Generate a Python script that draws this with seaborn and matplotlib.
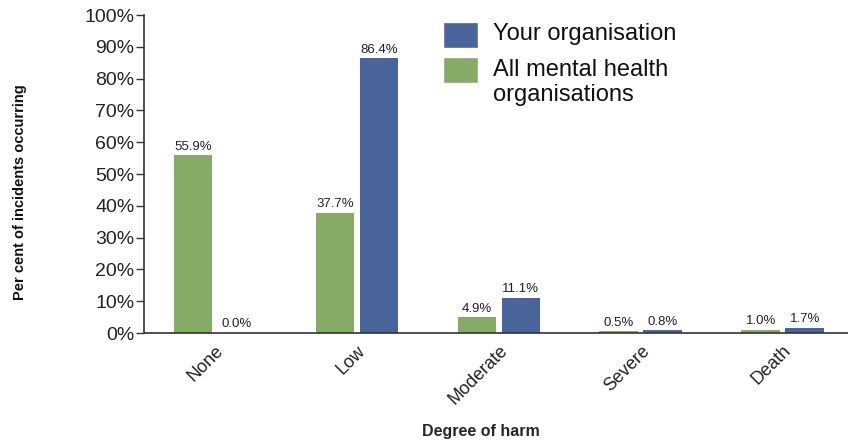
import matplotlib
matplotlib.use("Agg")
import matplotlib.pyplot as plt
import seaborn as sns
import pandas as pd
from matplotlib.patches import Rectangle

categories = ["None", "Low", "Moderate", "Severe", "Death"]
all_mh = [55.9, 37.7, 4.9, 0.5, 1.0]
your_org = [0.0, 86.4, 11.1, 0.8, 1.7]
series_names = ["All mental health organisations", "Your organisation"]
yticks = list(range(0, 101, 10))

df = pd.DataFrame({
    "cat": categories * 2,
    "val": all_mh + your_org,
    "series": [series_names[0]] * 5 + [series_names[1]] * 5,
})

sns.set_style("white")
plt.rcParams['font.family'] = ['Liberation Sans', 'DejaVu Sans']

green = "#86AB66"
blue = "#4A659B"

fig = plt.figure(figsize=(8.48, 4.44), dpi=100)
ax = fig.add_axes([0.17, 0.25, 0.83, 0.716])
sns.barplot(data=df, x="cat", y="val", hue="series", hue_order=series_names,
            palette=[green, blue], width=0.62, gap=0.12, ax=ax, legend=False,
            saturation=1, edgecolor="none")

for c in ax.containers:
    ax.bar_label(c, labels=[f"{v:.1f}%" for v in c.datavalues], fontsize=9.5,
                 padding=2, color="#222222")

ax.set_ylim(0, 100)
ax.set_xlim(-0.5, 4.46)
ax.set_yticks(yticks)
ax.set_yticklabels([f"{t}%" for t in yticks], fontsize=14, color="#222222")
ax.tick_params(axis="y", left=True, length=6, width=1, color="#333333", pad=1)
ax.tick_params(axis="x", bottom=False, pad=3)
plt.setp(ax.get_xticklabels(), rotation=45, ha="right", rotation_mode="anchor",
         fontsize=13, color="#222222")
ax.set_xlabel("Degree of harm", fontsize=11.5, fontweight="bold")
ax.xaxis.set_label_coords(0.479, -0.286)
ax.set_ylabel("Per cent of incidents occurring", fontsize=10.5,
              color="#111111", fontweight="bold")
ax.yaxis.set_label_coords(-0.166, 0.443)
sns.despine(ax=ax)
for s in ["left", "bottom"]:
    ax.spines[s].set_color("#333333")
    ax.spines[s].set_linewidth(1.2)

# legend (manual, to match the reference's alignment)
W, H = 848.0, 444.0
fig.patches.append(Rectangle((443 / W, 1 - 48 / H), 35 / W, 26 / H,
                             facecolor=blue, transform=fig.transFigure))
fig.patches.append(Rectangle((443 / W, 1 - 83 / H), 35 / W, 26 / H,
                             facecolor=green, transform=fig.transFigure))
legend_lines = [("Your organisation", 34), ("All mental health", 70), ("organisations", 95)]
for txt, yy in legend_lines:
    fig.text(493 / W, 1 - yy / H, txt, fontsize=17, va="center", ha="left",
             color="#111111")

fig.savefig("out.png", dpi=100)
